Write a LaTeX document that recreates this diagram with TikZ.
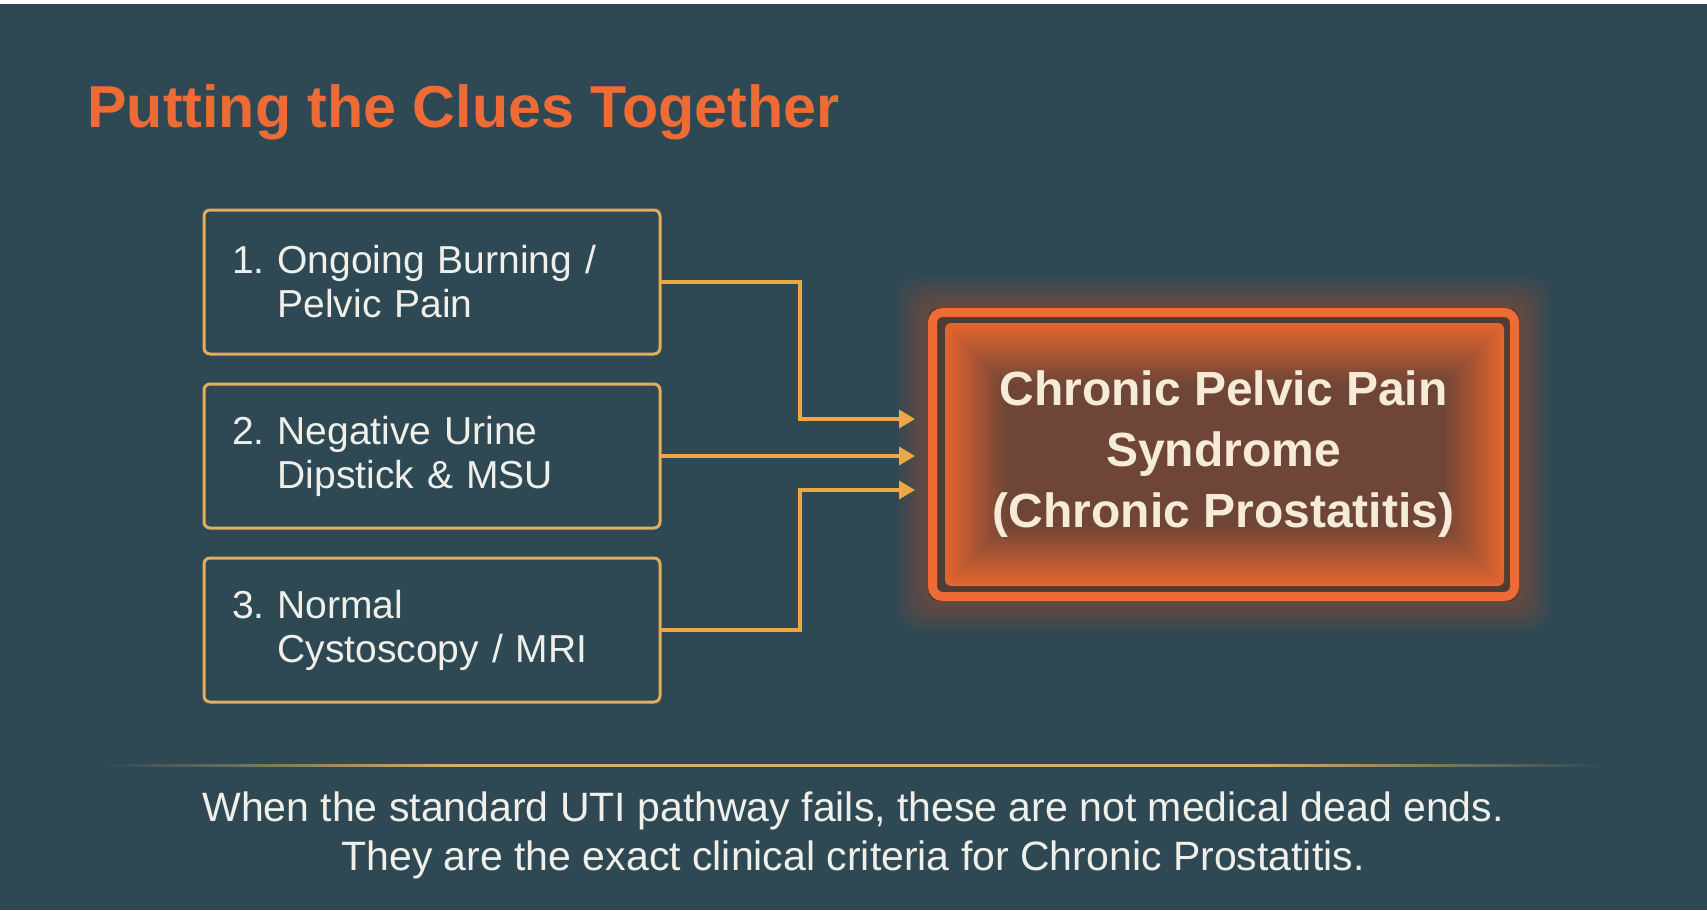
\documentclass[tikz,border=0pt]{standalone}
\usepackage{fontspec}
\setmainfont{Liberation Sans}
\usetikzlibrary{arrows.meta,positioning,backgrounds,calc}
\definecolor{bgc}{HTML}{2F4954}
\definecolor{hot}{HTML}{EE6B35}
\definecolor{gold}{HTML}{E2AE5E}
\definecolor{amber}{HTML}{EFA742}
\definecolor{rust}{HTML}{6A4437}
\definecolor{ember}{HTML}{E3652F}
\definecolor{gap}{HTML}{4E3D37}
\definecolor{cream}{HTML}{F6EBD7}
\definecolor{ink}{HTML}{F0F0EA}
\definecolor{rule}{HTML}{D6B36C}
\newcommand{\clue}[3]{#1~\parbox[t]{175pt}{#2\\#3}}
\tikzset{
  clue/.style={draw=gold,line width=1.5pt,rounded corners=3pt,minimum width=228pt,minimum height=72pt,
    text width=200pt,align=left,inner xsep=14pt,outer sep=0pt,text=ink,font=\fontsize{19.5}{22}\selectfont},
  hub/.style={minimum width=295.5pt,minimum height=146.5pt,align=center,outer sep=0pt,text=cream,
    font=\bfseries\fontsize{24}{30.5}\selectfont},
  ar/.style={-{Triangle[length=8pt,width=9pt]},line width=1.8pt,draw=amber},
  note/.style={align=center,text=ink,font=\fontsize{20.5}{24.5}\selectfont},
}
\begin{document}
\begin{tikzpicture}[x=0.5pt,y=-0.5pt,node distance=15pt]
\useasboundingbox (0,0) rectangle (1707,910);
\begin{scope}[on background layer]
\fill[white] (0,0) rectangle (1707,910);
\fill[bgc] (0,4) rectangle (1707,910);
\end{scope}

\node[anchor=base west,inner sep=0pt,text=hot,font=\bfseries\fontsize{29.6}{34}\selectfont] (title) at (87,127)
  {Putting the Clues Together};

% the three clues
\node[clue,anchor=north west] (c1) at (204,210) {\clue{1.}{Ongoing Burning /}{Pelvic Pain}};
\node[clue,below=of c1] (c2) {\clue{2.}{Negative Urine}{Dipstick \& MSU}};
\node[clue,below=of c2] (c3) {\clue{3.}{Normal}{Cystoscopy / MRI}};

% the diagnosis
\node[hub] (ccp) at (1223.5,454.5) {Chronic Pelvic Pain\\Syndrome\\(Chronic Prostatitis)};
\begin{scope}[on background layer]
\foreach \g in {1,...,20}
  \fill[hot,opacity=0.018,rounded corners=10pt] ($(ccp.north west)+(-1.6*\g,-1.6*\g)$) rectangle ($(ccp.south east)+(1.6*\g,1.6*\g)$);
\fill[gap,rounded corners=5pt] (ccp.north west) rectangle (ccp.south east);
\draw[hot,line width=4.5pt,rounded corners=5pt] ($(ccp.north west)+(4.5,4.5)$) rectangle ($(ccp.south east)+(-4.5,-4.5)$);
\foreach \i in {0,...,24}{
  \pgfmathtruncatemacro\mix{100-4*\i}
  \fill[ember!\mix!rust,rounded corners=3pt] ($(ccp.north west)+(17+2.5*\i,15+2.5*\i)$) rectangle ($(ccp.south east)+(-15-2.5*\i,-15-2.5*\i)$);
}
\end{scope}

\draw[ar] (c1.east) -- ++(140,0) |- ($(ccp.west)+(-13,-35.5)$);
\draw[ar] (c2.east) -- ($(ccp.west |- c2.east)+(-13,0)$);
\draw[ar] (c3.east) -- ++(140,0) |- ($(ccp.west)+(-13,35.5)$);

% rule and closing note
\foreach \s in {0,...,39}{
  \pgfmathtruncatemacro\mix{2.5*\s}
  \fill[rule!\mix!bgc] (98+9*\s,763.5) rectangle (107.5+9*\s,766.5);
  \fill[rule!\mix!bgc] (1611-9*\s,763.5) rectangle (1601.5-9*\s,766.5);
}
\fill[rule] (458,763.5) rectangle (1251,766.5);
\node[note] (note) at (853,835) {When the standard UTI pathway fails, these are not medical dead ends.\\
  They are the exact clinical criteria for Chronic Prostatitis.};
\end{tikzpicture}
\end{document}
